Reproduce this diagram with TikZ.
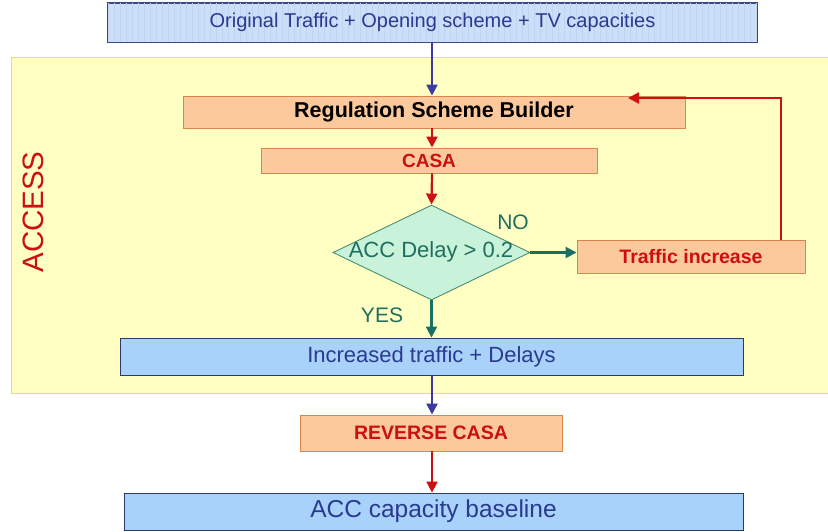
\documentclass[tikz,border=0pt]{standalone}
\usepackage{fontspec}
\setmainfont{Liberation Sans}
\usetikzlibrary{shapes.geometric,arrows.meta}
\definecolor{topfill}{HTML}{CCDEF8}
\definecolor{topgrid}{HTML}{C0D4F2}
\definecolor{topdraw}{HTML}{3A4A8A}
\definecolor{yelfill}{HTML}{FFFFC4}
\definecolor{yeldraw}{HTML}{E6DE6E}
\definecolor{orfill}{HTML}{FBC99B}
\definecolor{ordraw}{HTML}{D8864C}
\definecolor{grfill}{HTML}{C8F2DA}
\definecolor{grdraw}{HTML}{4A9070}
\definecolor{blfill}{HTML}{A9D2FA}
\definecolor{bldraw}{HTML}{2A3A6A}
\definecolor{arblue}{HTML}{3A3AA0}
\definecolor{arred}{HTML}{D01010}
\definecolor{arteal}{HTML}{1A7060}
\definecolor{txblue}{HTML}{2A3A90}
\definecolor{txred}{HTML}{CC1010}
\definecolor{txteal}{HTML}{1F6F60}
\tikzset{
  box/.style={rectangle, inner sep=0pt, anchor=center, line width=0.9pt},
  orbox/.style={box, fill=orfill, draw=ordraw},
  blbox/.style={box, fill=blfill, draw=bldraw},
  arr/.style={line width=2.2pt, -{Triangle[width=11pt,length=11pt]}},
}
\newcommand{\fs}[1]{\fontsize{#1}{#1}\selectfont}
\begin{document}
\begin{tikzpicture}[x=1pt,y=-1pt]
\useasboundingbox (0,0) rectangle (828,531);
\fill[white] (0,0) rectangle (828,531);
% ACCESS area
\draw[fill=yelfill, draw=yeldraw, line width=1pt] (11,57) rectangle (829,393);
\node[rotate=90, text=txred, font=\fs{29.5}] (access) at (33,212) {ACCESS};
% top box with faint grid
\node[box, fill=topfill, draw=topdraw, minimum width=649, minimum height=39] (top) at (432.5,22.5) {};
\begin{scope}
\clip (top.south west) rectangle (top.north east);
\draw[topgrid, line width=0.3pt, step=6] (108,3) grid (758,42);
\end{scope}
\draw[topdraw, line width=0.9pt] (top.south west) rectangle (top.north east);
\node[text=txblue, font=\fs{20}, inner sep=0pt] (toptext) at (432.5,22) {Original Traffic + Opening scheme + TV capacities};
% nodes
\node[orbox, minimum width=502, minimum height=32, font=\fs{21.5}\bfseries] (rsb) at (434,112) {Regulation Scheme Builder};
\node[orbox, minimum width=336, minimum height=25, text=txred, font=\fs{19}\bfseries] (casa) at (429,160.5) {CASA};
\node[diamond, aspect=2.07, inner sep=0pt, minimum width=197, minimum height=95, fill=grfill, draw=grdraw, line width=0.9pt] (dec) at (431.5,252.5) {};
\node[text=txteal, font=\fs{22}, inner sep=0pt] (dectext) at (431,252) {ACC Delay > 0.2};
\node[orbox, minimum width=228, minimum height=33, text=txred, font=\fs{19.5}\bfseries] (ti) at (691,256.5) {Traffic increase};
\node[text=txteal, font=\fs{21}, inner sep=0pt] (no) at (513,222) {NO};
\node[text=txteal, font=\fs{21}, inner sep=0pt] (yes) at (382,315) {YES};
\node[blbox, minimum width=623, minimum height=37, text=txblue, font=\fs{22}] (inc) at (431.5,356.5) {Increased traffic + Delays};
\node[orbox, minimum width=262, minimum height=36, text=txred, font=\fs{19.5}\bfseries] (rev) at (431,433) {REVERSE CASA};
\node[blbox, minimum width=619, minimum height=37, text=txblue, font=\fs{24.5}] (base) at (433.5,511.5) {ACC capacity baseline};
\coordinate (fbend) at (628,98);
\coordinate (fcorner) at (781,98);
% connectors
\draw[arr, arblue] (top.south -| 432,0) -- (rsb.north -| 432,0);
\draw[arr, arred] (rsb.south -| 432,0) -- (casa.north -| 432,0);
\draw[arr, arred] (casa.south -| 432,0) -- (dec.north);
\draw[arr, arteal] (dec.east) -- (dec.east -| ti.west);
\draw[arr, arred] (ti.north -| fcorner) -- (fcorner) -- (fbend);
\draw[arr, arteal] (dec.south) -- (inc.north -| dec.south);
\draw[arr, arblue] (inc.south -| 432,0) -- (rev.north -| 432,0);
\draw[arr, arred] (rev.south -| 432,0) -- (base.north -| 432,0);
\end{tikzpicture}
\end{document}
